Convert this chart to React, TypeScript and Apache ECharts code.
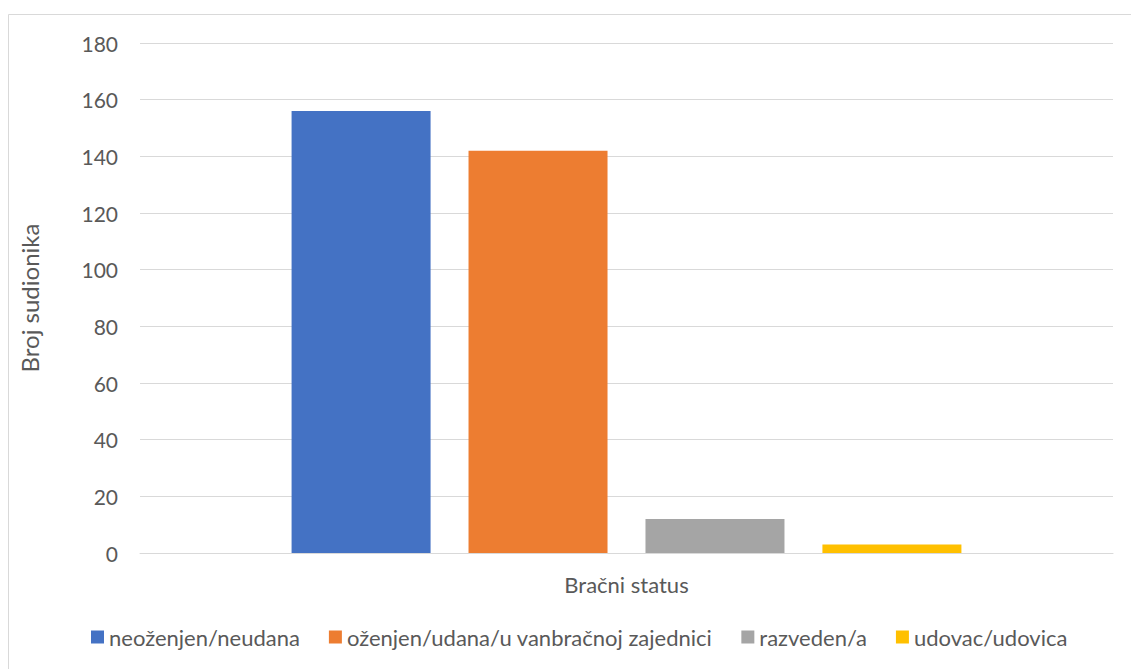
import React, { useEffect, useRef } from "react";
import * as echarts from "echarts";

const categories = ["Bračni status"];
const seriesNames = [
  "neoženjen/neudana",
  "oženjen/udana/u vanbračnoj zajednici",
  "razveden/a",
  "udovac/udovica",
];
const seriesValues = [156, 142, 12, 3];
const seriesColors = ["#4472C4", "#ED7D31", "#A5A5A5", "#FFC000"];
const yTicks = [0, 20, 40, 60, 80, 100, 120, 140, 160, 180];

const FONT = "Lato, 'Open Sans', sans-serif";
const TEXT = "#595959";

export default function App() {
  const ref = useRef<HTMLDivElement>(null);
  useEffect(() => {
    if (!ref.current) return;
    const chart = echarts.init(ref.current, undefined, { renderer: "svg" });
    chart.setOption({
      animation: false,
      backgroundColor: "#ffffff",
      textStyle: { fontFamily: FONT },
      graphic: [
        {
          type: "rect",
          shape: { x: 8.5, y: 14.5, width: 1140, height: 680 },
          style: { fill: "none", stroke: "#d9d9d9", lineWidth: 1 },
          silent: true,
        },
      ],
      grid: { left: 140, right: 18, top: 43, bottom: 116 },
      legend: {
        top: 621,
        left: 86,
        itemWidth: 13,
        itemHeight: 13,
        itemGap: 29,
        icon: "rect",
        textStyle: { color: TEXT, fontSize: 22, fontFamily: FONT },
        data: seriesNames,
      },
      xAxis: {
        type: "category",
        data: categories,
        name: categories[0],
        nameLocation: "middle",
        nameGap: 20,
        nameTextStyle: { color: TEXT, fontSize: 22, fontFamily: FONT },
        axisLabel: { show: false },
        axisTick: { show: false },
        axisLine: { lineStyle: { color: "#d9d9d9", width: 1 } },
      },
      yAxis: {
        type: "value",
        min: yTicks[0],
        max: yTicks[yTicks.length - 1],
        interval: yTicks[1] - yTicks[0],
        name: "Broj sudionika",
        nameLocation: "middle",
        nameGap: 99,
        nameTextStyle: { color: TEXT, fontSize: 24, fontFamily: FONT },
        axisLabel: { color: TEXT, fontSize: 21, fontFamily: FONT, margin: 22 },
        axisLine: { show: false },
        axisTick: { show: false },
        splitLine: { lineStyle: { color: "#d9d9d9", width: 1 } },
      },
      series: seriesNames.map((name, i) => ({
        name,
        type: "bar",
        data: [seriesValues[i]],
        barWidth: 139,
        barGap: "27.3%",
        itemStyle: { color: seriesColors[i] },
      })),
    });
    return () => chart.dispose();
  }, []);
  return (
    <div
      ref={ref}
      style={{ position: "fixed", left: 0, top: 0, width: 1131, height: 669 }}
    />
  );
}
